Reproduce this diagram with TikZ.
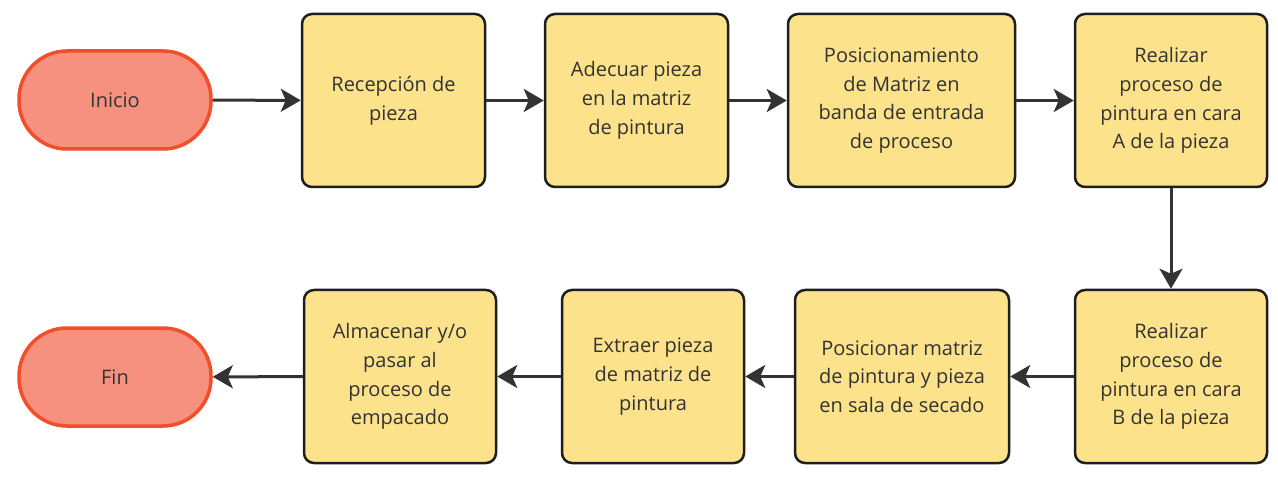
\documentclass[tikz,border=0pt]{standalone}
\usepackage{fontspec}
\setmainfont{Open Sans}
\usetikzlibrary{arrows.meta}

\definecolor{boxfill}{HTML}{FCE28B}
\definecolor{boxline}{HTML}{1E1E1E}
\definecolor{termfill}{HTML}{F7917F}
\definecolor{termline}{HTML}{F24E2A}
\definecolor{txt}{HTML}{333333}
\definecolor{arr}{HTML}{333333}

\tikzset{
  stepbox/.style={draw=boxline, fill=boxfill, line width=2.5pt,
    rounded corners=10pt, align=center, text=txt, inner sep=0pt,
    font=\fontsize{20}{28.7}\selectfont},
  term/.style={draw=termline, fill=termfill, line width=3.5pt,
    rounded corners=48pt, minimum width=192pt, minimum height=98pt,
    text=txt, font=\fontsize{20}{28.7}\selectfont},
  flow/.style={draw=arr, line width=3pt,
    -{Stealth[length=20pt,width=23pt,inset=5pt]}}
}

\begin{document}
\begin{tikzpicture}[x=1pt,y=-1pt]
\useasboundingbox (0,0) rectangle (1278,481);
% top row
\node[term] (ini) at (115,100) {Inicio};
\node[stepbox, minimum width=183pt, minimum height=173pt] (rec) at (393.5,100.5) {Recepción de\\pieza};
\node[stepbox, minimum width=183pt, minimum height=173pt] (ade) at (636.5,100.5) {Adecuar pieza\\en la matriz\\de pintura};
\node[stepbox, minimum width=227pt, minimum height=173pt] (pos) at (901.5,100.5) {Posicionamiento\\de Matriz en\\banda de entrada\\de proceso};
\node[stepbox, minimum width=192pt, minimum height=173pt] (cara) at (1171,100.5) {Realizar\\proceso de\\pintura en cara\\A de la pieza};
% bottom row
\node[stepbox, minimum width=192pt, minimum height=173pt] (carb) at (1171,376.5) {Realizar\\proceso de\\pintura en cara\\B de la pieza};
\node[stepbox, minimum width=214pt, minimum height=173pt] (sec) at (902,376.5) {Posicionar matriz\\de pintura y pieza\\en sala de secado};
\node[stepbox, minimum width=182pt, minimum height=173pt] (ext) at (653,376.5) {Extraer pieza\\de matriz de\\pintura};
\node[stepbox, minimum width=192pt, minimum height=173pt] (alm) at (400,376.5) {Almacenar y/o\\pasar al\\proceso de\\empacado};
\node[term] (fin) at (115,377) {Fin};

\draw[flow] (ini) -- (rec);
\draw[flow] (rec) -- (ade);
\draw[flow] (ade) -- (pos);
\draw[flow] (pos) -- (cara);
\draw[flow] (cara) -- (carb);
\draw[flow] (carb) -- (sec);
\draw[flow] (sec) -- (ext);
\draw[flow] (ext) -- (alm);
\draw[flow] (alm) -- (fin);
\end{tikzpicture}
\end{document}
